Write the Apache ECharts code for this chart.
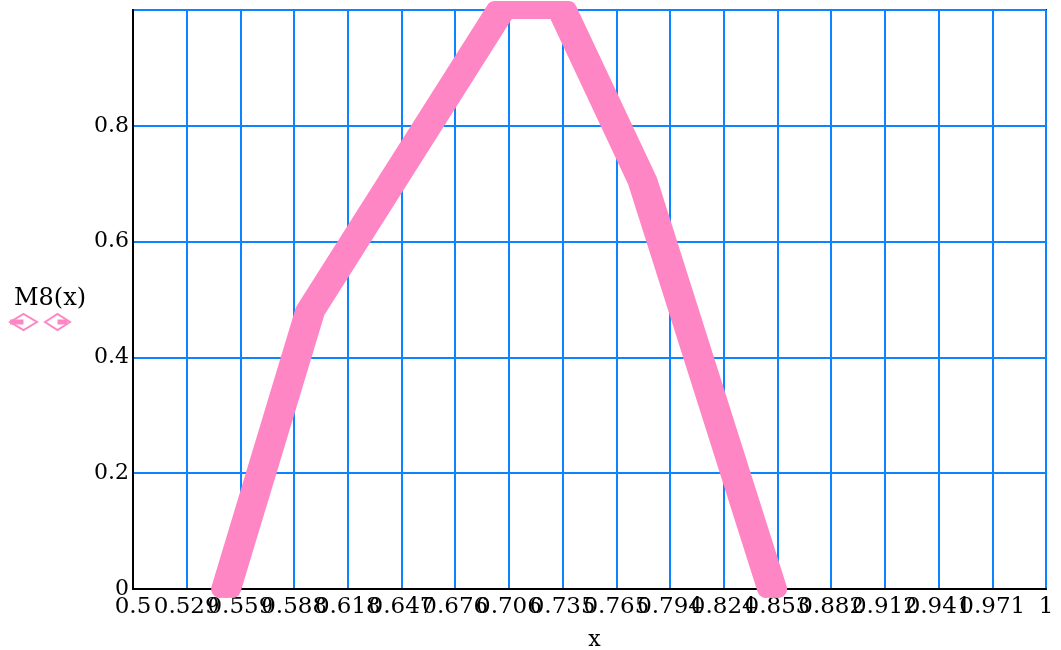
<!DOCTYPE html>
<html>
<head>
<meta charset="utf-8">
<script src="https://cdn.jsdelivr.net/npm/echarts@6/dist/echarts.min.js"></script>
<style>html,body{margin:0;padding:0;background:#fff}#c{width:1061px;height:650px}</style>
</head>
<body>
<div id="c"></div>
<script>
// Curve M8(x): break points
const xValues = [0.551, 0.597, 0.7015, 0.735, 0.779, 0.850];
const yValues = [0, 0.48, 1, 1, 0.705, 0];
// Tick labels as shown by the reference
const xTickLabels = ['0.5','0.529','0.559','0.588','0.618','0.647','0.676','0.706','0.735','0.765','0.794','0.824','0.853','0.882','0.912','0.941','0.971','1'];
const yTickLabels = ['0','0.2','0.4','0.6','0.8',''];
const seriesName = 'M8(x)';
const xName = 'x';

const pink = '#ff86c4';
const blue = '#0a84ff';
const font = 'DejaVu Serif';
const pts = xValues.map((x, i) => [x, yValues[i]]);

const chart = echarts.init(document.getElementById('c'), null, {renderer: 'canvas'});
const lineSeries = (dx) => ({
  type: 'line', name: seriesName, data: pts, symbol: 'none', clip: true,
  animation: false, silent: true,
  lineStyle: {color: pink, width: 18, cap: 'round', join: 'round',
    shadowColor: pink, shadowBlur: 0, shadowOffsetX: dx, shadowOffsetY: 0}
});
chart.setOption({
  animation: false,
  grid: {left: 133, right: 15, top: 10, bottom: 61, outerBoundsMode: 'none', containLabel: false,
    show: true, borderColor: '#111', borderWidth: 2, backgroundColor: 'transparent'},
  xAxis: {
    type: 'value', min: 0.5, max: 1, interval: 1/34,
    name: xName, nameLocation: 'middle', nameGap: 40,
    nameTextStyle: {fontFamily: font, fontSize: 22, color: '#000', padding: [0, 0, 0, 10]},
    axisLine: {show: true, onZero: false, lineStyle: {color: '#000', width: 2}},
    axisTick: {show: false},
    axisLabel: {fontFamily: font, fontSize: 23, color: '#000', margin: 7, hideOverlap: false,
      showMinLabel: true, showMaxLabel: true,
      formatter: v => xTickLabels[Math.round((v - 0.5) * 34)] ?? ''},
    splitLine: {show: true, lineStyle: {color: blue, width: 2}}
  },
  yAxis: {
    type: 'value', min: 0, max: 1, interval: 0.2,
    axisLine: {show: true, onZero: false, lineStyle: {color: '#000', width: 2}},
    axisTick: {show: false},
    axisLabel: {fontFamily: font, fontSize: 22, color: '#000', margin: 4,
      formatter: v => yTickLabels[Math.round(v * 5)] ?? ''},
    splitLine: {show: true, lineStyle: {color: blue, width: 2}}
  },
  series: [lineSeries(6), lineSeries(-6)],
  graphic: [
    {type: 'text', left: 14, top: 287, style: {text: seriesName, font: '24px "DejaVu Serif"', fill: '#000'}},
    {type: 'polygon', shape: {points: [[10,322],[23.5,314],[37,322],[23.5,330]]}, style: {fill: '#fff', stroke: pink, lineWidth: 2}},
    {type: 'rect', shape: {x: 10, y: 319.5, width: 13.5, height: 5}, style: {fill: pink}},
    {type: 'polygon', shape: {points: [[45,322],[57.5,314],[70,322],[57.5,330]]}, style: {fill: '#fff', stroke: pink, lineWidth: 2}},
    {type: 'rect', shape: {x: 57.5, y: 319.5, width: 10, height: 5}, style: {fill: pink}}
  ]
});
</script>
</body>
</html>
